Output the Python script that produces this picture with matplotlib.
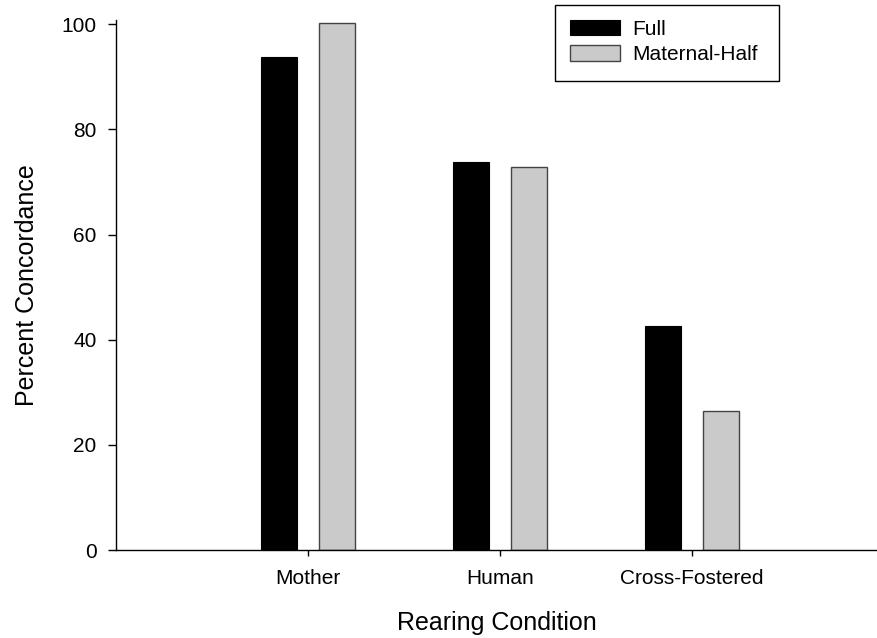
import matplotlib
matplotlib.use("Agg")
import matplotlib.pyplot as plt
from matplotlib.patches import Rectangle
import numpy as np

categories = ["Mother", "Human", "Cross-Fostered"]
full = [93.8, 73.7, 42.6]
maternal_half = [100.3, 72.9, 26.5]
series_names = ["Full", "Maternal-Half"]
yticks = [0, 20, 40, 60, 80, 100]

plt.rcParams['font.family'] = ['Liberation Sans', 'DejaVu Sans']

W, H = 877, 638
fig = plt.figure(figsize=(W / 100, H / 100), dpi=100)
ax = fig.add_axes([116 / W, (H - 550) / H, 1 - 116 / W, (550 - 20) / H])

x = np.arange(1, len(categories) + 1)
width = 0.19
ax.bar(x - 0.15, full, width, color="black", edgecolor="black", linewidth=0.8, label=series_names[0])
ax.bar(x + 0.15, maternal_half, width, color="#cacaca", edgecolor="#444444", linewidth=1.0, label=series_names[1])

ax.set_xlim(0, (W - 116) / 192)
ax.set_ylim(0, 100.8)
ax.set_yticks(yticks)
ax.set_xticks(x)
ax.set_xticklabels(categories)

for s in ["top", "right"]:
    ax.spines[s].set_visible(False)
for s in ["left", "bottom"]:
    ax.spines[s].set_linewidth(1.0)
ax.tick_params(axis="y", direction="out", length=6, width=1.0, labelsize=15, pad=8)
ax.tick_params(axis="x", direction="out", length=4, width=1.0, labelsize=15, pad=10)

ax.set_ylabel("Percent Concordance", fontsize=18, labelpad=16)
ax.set_xlabel("Rearing Condition", fontsize=18, labelpad=16)

# legend frame drawn in figure pixel coordinates
fig.patches.append(Rectangle((555 / W, 1 - 81 / H), (779 - 555) / W, 76 / H,
                             transform=fig.transFigure, fill=False, edgecolor="black",
                             linewidth=1.0, zorder=5))
leg = ax.legend(loc="upper left", bbox_to_anchor=(570 / W, 1 - 20 / H), bbox_transform=fig.transFigure,
                fontsize=15, frameon=False,
                handlelength=2.4, handleheight=0.75, handletextpad=0.6, labelspacing=0.3,
                borderpad=0.0, borderaxespad=0)
fig.savefig("out.png", dpi=100)
